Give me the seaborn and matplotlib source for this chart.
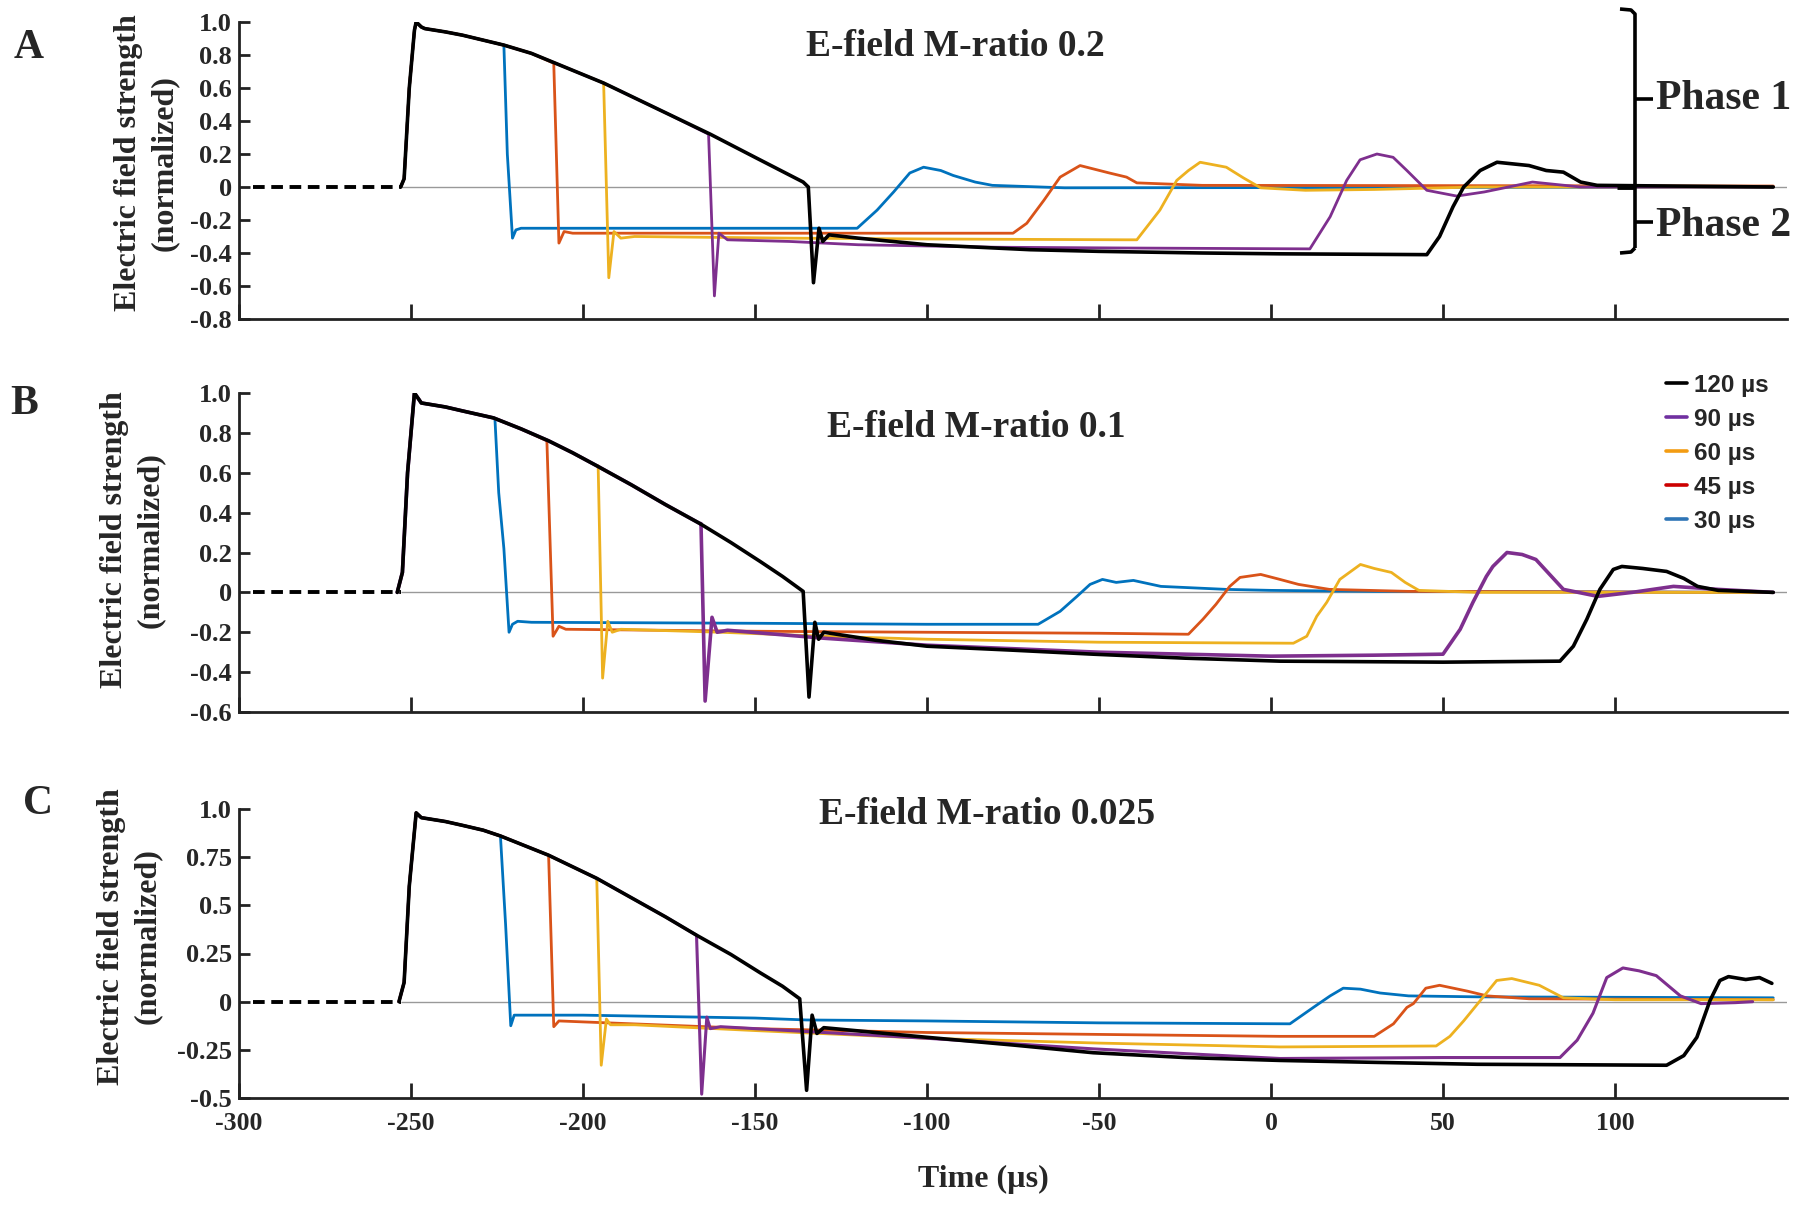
import numpy as np
import pandas as pd
import matplotlib
matplotlib.use("Agg")
import matplotlib.pyplot as plt
import seaborn as sns
from matplotlib.lines import Line2D
from matplotlib.font_manager import FontProperties

# --- values (time in µs, field normalized) ---
pulse_labels = ["120 µs", "90 µs", "60 µs", "45 µs", "30 µs"]
titles = ["E-field M-ratio 0.2", "E-field M-ratio 0.1", "E-field M-ratio 0.025"]
panel_letters = ["A", "B", "C"]
x_ticks = [-300, -250, -200, -150, -100, -50, 0, 50, 100]
x_labels = ["-300", "-250", "-200", "-150", "-100", "-50", "0", "50", "100"]

pre_t = [-296, -253]
pre_v = [0, 0]

# panel A (M-ratio 0.2)
a_env_t = [-253, -252, -250.5, -249, -248.5, -247, -246, -240, -235, -229, -223, -215, -208, -201, -194, -185, -175, -163, -150, -136]
a_env_v = [0.0, 0.05, 0.6, 0.95, 1.0, 0.97, 0.96, 0.94, 0.92, 0.89, 0.86, 0.81, 0.75, 0.69, 0.63, 0.54, 0.44, 0.32, 0.18, 0.03]
a30_t = [-223, -222, -220.5, -219.5, -218, -150, -120.3, -114.5, -109.7, -105, -101, -96, -92.4, -86, -81, -60, 146]
a30_v = [0.86, 0.2, -0.31, -0.26, -0.25, -0.25, -0.25, -0.14, -0.03, 0.085, 0.12, 0.1, 0.07, 0.03, 0.01, -0.005, 0.0]
a45_t = [-208.5, -207, -205.5, -203, -150, -75, -71, -66, -61.3, -55.5, -47, -42, -39, -20, 146]
a45_v = [0.75, -0.34, -0.27, -0.28, -0.28, -0.28, -0.22, -0.08, 0.06, 0.13, 0.085, 0.06, 0.025, 0.01, 0.006]
a60_t = [-194, -192.5, -191, -189, -185, -140, -100, -42, -39, -32.3, -27.4, -24, -20.6, -13, -8, -3, 10, 30, 60, 146]
a60_v = [0.63, -0.55, -0.27, -0.31, -0.30, -0.31, -0.315, -0.32, -0.32, -0.14, 0.04, 0.1, 0.15, 0.12, 0.055, -0.005, -0.02, -0.015, 0.0, 0.0]
a90_t = [-163.5, -161.8, -160.5, -158, -140, -120, -80, -40, 11.3, 17.2, 22, 25.9, 30.8, 35.5, 39.5, 45.3, 54, 62, 76, 90, 146]
a90_v = [0.32, -0.66, -0.28, -0.32, -0.33, -0.35, -0.365, -0.37, -0.375, -0.18, 0.04, 0.165, 0.2, 0.18, 0.1, -0.02, -0.055, -0.03, 0.03, 0.0, 0.0]
a120_t = [-136, -134.5, -133, -131.4, -130.3, -128.5, -120, -100, -70, -50, -20, 2.6, 45.3, 49, 52.9, 56, 57, 60.8, 65.7, 75, 80, 85, 90, 94.8, 146]
a120_v = [0.03, 0.0, -0.58, -0.25, -0.33, -0.29, -0.31, -0.35, -0.38, -0.39, -0.40, -0.405, -0.41, -0.30, -0.12, 0.0, 0.02, 0.1, 0.15, 0.13, 0.1, 0.09, 0.03, 0.01, 0.0]

# panel B (M-ratio 0.1)
b_env_t = [-254, -252.5, -251, -249, -247, -240, -235, -226, -218, -210, -203, -196, -186, -176, -166, -157, -148.5, -142, -136]
b_env_v = [0.0, 0.1, 0.6, 1.0, 0.95, 0.93, 0.91, 0.875, 0.82, 0.76, 0.70, 0.635, 0.54, 0.44, 0.345, 0.25, 0.155, 0.08, 0.005]
b30_t = [-225.6, -224.5, -223, -221.5, -220.5, -219, -215, -150, -100, -67.7, -61.3, -56.4, -52.6, -49, -45, -40, -32, -13, 0, 30, 146]
b30_v = [0.87, 0.5, 0.22, -0.2, -0.16, -0.145, -0.15, -0.155, -0.16, -0.16, -0.095, -0.02, 0.04, 0.065, 0.05, 0.06, 0.03, 0.015, 0.01, 0.005, 0.0]
b45_t = [-210.5, -208.7, -207, -205, -150, -100, -50, -24, -19.8, -16, -12, -9, -3, 2.6, 8, 17, 40, 146]
b45_v = [0.76, -0.22, -0.17, -0.185, -0.195, -0.2, -0.205, -0.21, -0.135, -0.06, 0.03, 0.075, 0.09, 0.065, 0.04, 0.015, 0.005, 0.0]
b60_t = [-195.6, -194.3, -192.8, -191.5, -189, -160, -130, -100, -50, 6.5, 10.4, 13.3, 16.2, 20, 26, 30, 35, 39, 43, 60, 146]
b60_v = [0.635, -0.43, -0.145, -0.2, -0.185, -0.2, -0.22, -0.235, -0.25, -0.255, -0.22, -0.12, -0.05, 0.065, 0.14, 0.12, 0.1, 0.05, 0.01, 0.0, 0.0]
b90_t = [-165.7, -164.5, -162.5, -161, -158, -130, -100, -50, 0, 30, 50, 55, 58.7, 62.6, 64.5, 68.6, 73, 77, 81, 85, 95, 105, 117, 130, 146]
b90_v = [0.345, -0.545, -0.125, -0.2, -0.19, -0.23, -0.265, -0.30, -0.32, -0.315, -0.31, -0.185, -0.05, 0.08, 0.13, 0.2, 0.19, 0.165, 0.09, 0.015, -0.02, 0.0, 0.03, 0.015, 0.0]
b120_t = [-136, -134.3, -132.6, -131.5, -130, -115, -100, -75, -51.7, -25, 2.6, 50, 84, 87.9, 91.8, 95.6, 99.5, 102, 108, 115, 120, 124, 130, 146]
b120_v = [0.005, -0.525, -0.15, -0.235, -0.2, -0.24, -0.27, -0.29, -0.31, -0.33, -0.345, -0.35, -0.345, -0.27, -0.135, 0.015, 0.115, 0.13, 0.12, 0.105, 0.07, 0.03, 0.01, 0.0]

# panel C (M-ratio 0.025)
c_env_t = [-253.5, -252, -250.5, -248.5, -247, -240, -235, -229, -224, -217, -210, -203, -196, -186, -176, -167, -157, -148.5, -142, -137]
c_env_v = [0.0, 0.1, 0.6, 0.98, 0.955, 0.935, 0.915, 0.89, 0.86, 0.81, 0.76, 0.70, 0.64, 0.54, 0.44, 0.345, 0.245, 0.15, 0.08, 0.015]
c30_t = [-224, -222.5, -221, -220, -200, -150, -135, -100, -50, 5.5, 12.3, 17.2, 21, 26, 31.7, 40, 60, 146]
c30_v = [0.86, 0.4, -0.125, -0.07, -0.07, -0.085, -0.095, -0.1, -0.11, -0.115, -0.03, 0.03, 0.07, 0.065, 0.045, 0.03, 0.025, 0.02]
c45_t = [-210, -208.5, -207, -200, -150, -100, -50, 2.6, 30, 35.6, 39.5, 41.4, 45, 49, 57, 62.8, 75, 146]
c45_v = [0.76, -0.13, -0.1, -0.105, -0.14, -0.16, -0.17, -0.18, -0.18, -0.115, -0.03, -0.01, 0.07, 0.085, 0.055, 0.03, 0.015, 0.01]
c60_t = [-196, -194.7, -193.2, -192, -185, -150, -100, -50, 2.6, 48, 52, 56, 60.8, 65.6, 70, 78, 85, 100, 146]
c60_v = [0.64, -0.33, -0.09, -0.12, -0.12, -0.15, -0.19, -0.215, -0.235, -0.23, -0.18, -0.1, 0.005, 0.11, 0.12, 0.085, 0.02, 0.01, 0.01]
c90_t = [-167, -165.5, -164, -163, -160, -130, -100, -51.7, 2.6, 50, 84, 89, 93.6, 97.6, 102.3, 107, 112, 119, 125, 135, 140]
c90_v = [0.345, -0.48, -0.08, -0.14, -0.13, -0.16, -0.19, -0.245, -0.295, -0.29, -0.29, -0.2, -0.06, 0.125, 0.175, 0.16, 0.135, 0.03, -0.01, -0.005, 0.0]
c120_t = [-137, -135, -133.4, -132, -130, -115, -100, -75, -51.7, -25, 2.6, 30, 60, 115, 120, 123.8, 127.6, 130.5, 133, 138, 142, 145.6]
c120_v = [0.015, -0.46, -0.07, -0.165, -0.135, -0.16, -0.185, -0.225, -0.265, -0.29, -0.305, -0.315, -0.325, -0.33, -0.28, -0.185, 0.005, 0.11, 0.13, 0.115, 0.125, 0.095]

a_yticks = [1.0, 0.8, 0.6, 0.4, 0.2, 0, -0.2, -0.4, -0.6, -0.8]
a_ylabels = ["1.0", "0.8", "0.6", "0.4", "0.2", "0", "-0.2", "-0.4", "-0.6", "-0.8"]
b_yticks = [1.0, 0.8, 0.6, 0.4, 0.2, 0, -0.2, -0.4, -0.6]
b_ylabels = ["1.0", "0.8", "0.6", "0.4", "0.2", "0", "-0.2", "-0.4", "-0.6"]
c_yticks = [1.0, 0.75, 0.5, 0.25, 0, -0.25, -0.5]
c_ylabels = ["1.0", "0.75", "0.5", "0.25", "0", "-0.25", "-0.5"]

# colours: order 30, 45, 60, 90, 120
line_colors = ["#0072BD", "#D95319", "#EDB120", "#7E2F8E", "black"]
legend_colors = ["black", "#7030A0", "#F39C12", "#CC0000", "#2E75B6"]


def build(env_t, env_v, t2, v2):
    # phase-1 envelope up to the cut, then the series' own points
    keep = [i for i, t in enumerate(env_t) if t < t2[0]]
    t = [env_t[i] for i in keep] + list(t2)
    v = [env_v[i] for i in keep] + list(v2)
    return pd.DataFrame({"t": t, "v": v})


sns.set_style("ticks")
plt.rcParams["font.family"] = ["Liberation Serif", "DejaVu Serif"]
plt.rcParams["font.weight"] = "bold"
plt.rcParams["axes.labelweight"] = "bold"
plt.rcParams["axes.unicode_minus"] = False

W, H = 1800, 1208
fig = plt.figure(figsize=(18, 12.08), dpi=100)


def px(x, y):
    return x / W, 1 - y / H


panels = [
    dict(rect=[239, 22, 1787, 319], ylim=(-0.8, 1.0), yt=a_yticks, yl=a_ylabels,
         env=(a_env_t, a_env_v), series=[(a30_t, a30_v), (a45_t, a45_v), (a60_t, a60_v), (a90_t, a90_v), (a120_t, a120_v)],
         lab=(-0.039, 0.525), title=(955, 46), letter=(29, 48), purple_lw=2.0),
    dict(rect=[239, 393, 1787, 712], ylim=(-0.6, 1.0), yt=b_yticks, yl=b_ylabels,
         env=(b_env_t, b_env_v), series=[(b30_t, b30_v), (b45_t, b45_v), (b60_t, b60_v), (b90_t, b90_v), (b120_t, b120_v)],
         lab=(-0.048, 0.54), title=(976, 428), letter=(24, 404), purple_lw=2.6),
    dict(rect=[239, 809, 1787, 1098], ylim=(-0.5, 1.0), yt=c_yticks, yl=c_ylabels,
         env=(c_env_t, c_env_v), series=[(c30_t, c30_v), (c45_t, c45_v), (c60_t, c60_v), (c90_t, c90_v), (c120_t, c120_v)],
         lab=(-0.050, 0.56), title=(987, 814), letter=(38, 804), purple_lw=2.2),
]

axes = []
for k, p in enumerate(panels):
    x0, y0, x1, y1 = p["rect"]
    ax = fig.add_axes([x0 / W, 1 - y1 / H, (x1 - x0) / W, (y1 - y0) / H])
    axes.append(ax)

    ax.hlines(0, -253, 150, color="0.6", lw=1.0, zorder=0)
    sns.lineplot(x=pre_t, y=pre_v, ax=ax, color="black", lw=2.8, zorder=5)
    ax.lines[-1].set_dashes([3.0, 1.7])

    env_t, env_v = p["env"]
    for (t2, v2), col in zip(p["series"], line_colors):
        df = build(env_t, env_v, t2, v2)
        if col == "black":
            lw = 2.6
        elif col == "#7E2F8E":
            lw = p["purple_lw"]
        else:
            lw = 2.0
        sns.lineplot(data=df, x="t", y="v", ax=ax, color=col, lw=lw,
                     estimator=None, sort=False, zorder=3)

    ax.set_xlim(-300, 150)
    ax.set_ylim(*p["ylim"])
    ax.set_xticks(x_ticks)
    ax.set_xticklabels(x_labels)
    ax.set_yticks(p["yt"])
    ax.set_yticklabels(p["yl"])
    for s in ["top", "right"]:
        ax.spines[s].set_visible(False)
    for s in ["left", "bottom"]:
        ax.spines[s].set_linewidth(2.0)
        ax.spines[s].set_color("#222222")
    ax.tick_params(axis="x", direction="in", length=11, width=2, color="#222222",
                   labelsize=18.5, pad=10)
    ax.tick_params(axis="y", direction="in", length=8, width=2, color="#222222",
                   labelsize=19, pad=5)
    ax.set_ylabel("Electric field strength\n(normalized)", fontsize=23, fontweight="bold",
                  linespacing=1.3)
    ax.yaxis.set_label_coords(*p["lab"])
    ax.set_xlabel("")
    if k < 2:
        ax.tick_params(axis="x", labelbottom=False)

    tx, ty = px(*p["title"])
    fig.text(tx, ty, titles[k], ha="center", va="center", fontsize=27, fontweight="bold")
    lx, ly = px(*p["letter"])
    fig.text(lx, ly, panel_letters[k], ha="center", va="center", fontsize=30, fontweight="bold")

tx, ty = px(983, 1179)
fig.text(tx, ty, "Time (µs)", ha="center", va="center", fontsize=23, fontweight="bold")

# phase bracket next to panel A
def seg(xs, ys, lw=2.6):
    pts = [px(x, y) for x, y in zip(xs, ys)]
    fig.add_artist(Line2D([q[0] for q in pts], [q[1] for q in pts], color="black",
                          lw=lw, transform=fig.transFigure, solid_capstyle="butt"))

seg([1620, 1631, 1635, 1635], [9, 10, 14, 248])
seg([1620, 1631, 1635], [253, 252, 248])
seg([1617, 1635], [187, 187], lw=3.5)
seg([1635, 1653], [99, 99])
seg([1635, 1653], [222, 222])
for lbl, yy in [("Phase 1", 99), ("Phase 2", 226)]:
    x, y = px(1656, yy)
    fig.text(x, y, lbl, ha="left", va="center", fontsize=30, fontweight="bold")

# legend (panel B)
handles = [Line2D([], [], color=c, lw=2.6) for c in legend_colors]
fig.legend(handles, pulse_labels, loc="upper left", bbox_to_anchor=px(1666, 374),
           frameon=False, prop=FontProperties(family="Liberation Sans", weight="bold", size=17.5),
           handlelength=0.85, handletextpad=0.3, labelspacing=0.45, borderpad=0, borderaxespad=0)

fig.savefig("out.png", dpi=100)
